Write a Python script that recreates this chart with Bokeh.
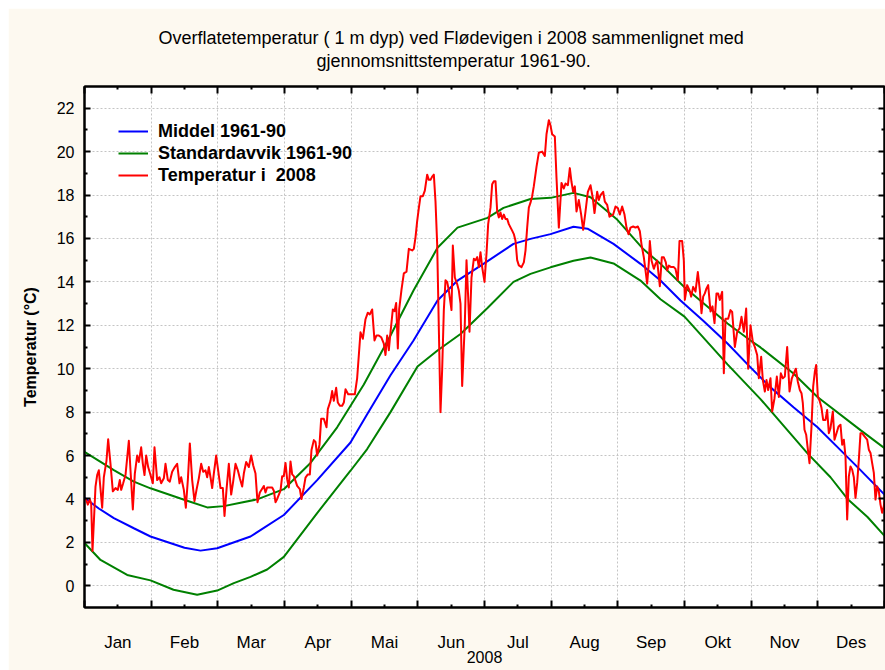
from bokeh.plotting import figure
from bokeh.models import (Range1d, LinearAxis, FixedTicker, Title, Legend, LegendItem, Grid, Spacer)
from bokeh.layouts import column, row
from bokeh.embed import file_html
from bokeh.resources import INLINE

FONT = "Liberation Sans"
CREAM = "#FDF9F0"

# ---------------- data ----------------
months = ["Jan", "Feb", "Mar", "Apr", "Mai", "Jun", "Jul", "Aug", "Sep", "Okt", "Nov", "Des"]
year_label = "2008"
y_ticks = [0, 2, 4, 6, 8, 10, 12, 14, 16, 18, 20, 22]

# x values are in months since 1 January (0 = 1 Jan, 12 = 31 Dec)
mean_month = [0, 0.22, 0.44, 0.74, 0.99, 1.5, 1.74, 1.99, 2.49, 2.99,
              3.49, 3.99, 4.24, 4.59, 4.935, 5.295, 5.595, 5.985, 6.435, 6.69,
              6.99, 7.335, 7.545, 7.935, 8.34, 8.64, 8.94, 9.285, 9.645, 9.99,
              10.29, 10.635, 10.995, 11.34, 11.64, 12.0]
mean_value = [4.05, 3.55, 3.12, 2.65, 2.27, 1.75, 1.62, 1.73, 2.27, 3.26,
              4.87, 6.6, 7.9, 9.7, 11.3, 13.14, 14.06, 14.83, 15.75, 15.98,
              16.2, 16.54, 16.45, 15.75, 14.83, 14.06, 13.14, 12.2, 11.16, 10.06,
              9.14, 8.22, 7.3, 6.25, 5.33, 4.2]

sd_hi_month = [0, 0.44, 0.74, 0.99, 1.44, 1.54, 1.84, 2.09, 2.34, 2.59,
               2.99, 3.39, 3.79, 4.19, 4.59, 4.935, 5.295, 5.595, 6.045, 6.285,
               6.69, 6.99, 7.335, 7.59, 7.98, 8.385, 8.64, 9.0, 9.645, 9.99,
               10.14, 10.635, 10.995, 11.64, 12.0]
sd_hi_value = [6.17, 5.33, 4.8, 4.49, 4.02, 3.92, 3.61, 3.67, 3.83, 3.98,
               4.45, 5.66, 7.3, 9.27, 11.53, 13.6, 15.57, 16.5, 16.95, 17.41,
               17.82, 17.87, 18.1, 17.9, 16.9, 15.5, 14.83, 13.75, 12.08, 11.3,
               10.98, 9.78, 8.7, 7.17, 6.34]

sd_lo_month = [0, 0.24, 0.64, 0.99, 1.335, 1.69, 1.99, 2.24, 2.49, 2.74,
               2.99, 3.49, 3.99, 4.24, 4.59, 4.995, 5.295, 5.64, 6.045, 6.435,
               6.69, 6.99, 7.335, 7.59, 7.935, 8.34, 8.64, 9.0, 9.645, 10.14,
               10.845, 11.19, 11.445, 11.745, 12.0]
sd_lo_value = [1.97, 1.19, 0.5, 0.25, -0.18, -0.41, -0.22, 0.12, 0.41, 0.75,
               1.33, 3.35, 5.3, 6.3, 8.0, 10.1, 10.84, 11.6, 12.8, 14.0,
               14.37, 14.67, 14.97, 15.12, 14.85, 14.06, 13.2, 12.4, 10.2, 8.6,
               6.1, 5.0, 4.0, 3.17, 2.3]

temp_month = [
    0.02, 0.05, 0.08, 0.10, 0.12, 0.165, 0.19, 0.215, 0.265, 0.29,
    0.33, 0.355, 0.39, 0.425, 0.465, 0.50, 0.53, 0.55, 0.58, 0.615,
    0.665, 0.69, 0.725, 0.755, 0.79, 0.815, 0.85, 0.875, 0.90, 0.925,
    0.955, 0.99, 1.025, 1.05, 1.09, 1.125, 1.15, 1.19, 1.215, 1.25,
    1.28, 1.315, 1.355, 1.39, 1.425, 1.45, 1.49, 1.52, 1.55, 1.58,
    1.615, 1.65, 1.68, 1.715, 1.75, 1.78, 1.815, 1.84, 1.865, 1.89,
    1.915, 1.94, 1.975, 2.005, 2.04, 2.075, 2.10, 2.13, 2.165, 2.20,
    2.23, 2.265, 2.30, 2.33, 2.365, 2.39, 2.425, 2.465, 2.50, 2.53,
    2.565, 2.595, 2.63, 2.69, 2.715, 2.74, 2.765, 2.815, 2.84, 2.865,
    2.89, 2.94, 2.965, 2.99, 3.015, 3.04, 3.065, 3.09, 3.115, 3.14,
    3.19, 3.23, 3.255, 3.29, 3.315, 3.35, 3.38, 3.405, 3.44, 3.465,
    3.49, 3.525, 3.55, 3.59, 3.63, 3.65, 3.69, 3.715, 3.74, 3.775,
    3.80, 3.83, 3.865, 3.89, 3.915, 3.955, 3.99, 4.055, 4.09, 4.14,
    4.175, 4.215, 4.25, 4.28, 4.315, 4.35, 4.38, 4.415, 4.45, 4.49,
    4.515, 4.54, 4.565, 4.59, 4.625, 4.65, 4.675, 4.70, 4.72, 4.755,
    4.79, 4.83, 4.865, 4.915, 4.94, 4.965, 4.99, 5.015, 5.04, 5.075,
    5.105, 5.14, 5.165, 5.19, 5.215, 5.24, 5.265, 5.29, 5.34, 5.365,
    5.39, 5.415, 5.44, 5.465, 5.505, 5.525, 5.555, 5.59, 5.615, 5.64,
    5.665, 5.705, 5.73, 5.755, 5.775, 5.805, 5.84, 5.865, 5.89, 5.915,
    5.94, 5.965, 6.0, 6.03, 6.055, 6.09, 6.115, 6.14, 6.165, 6.19,
    6.215, 6.24, 6.265, 6.29, 6.315, 6.34, 6.365, 6.415, 6.44, 6.465,
    6.49, 6.515, 6.555, 6.59, 6.615, 6.64, 6.665, 6.69, 6.715, 6.74,
    6.78, 6.815, 6.865, 6.905, 6.93, 6.965, 6.99, 7.015, 7.055, 7.08,
    7.115, 7.155, 7.19, 7.215, 7.25, 7.28, 7.305, 7.33, 7.355, 7.38,
    7.415, 7.45, 7.48, 7.515, 7.55, 7.59, 7.625, 7.65, 7.69, 7.715,
    7.74, 7.78, 7.805, 7.84, 7.875, 7.93, 7.965, 8.0, 8.03, 8.065,
    8.10, 8.13, 8.16, 8.19, 8.23, 8.265, 8.30, 8.33, 8.355, 8.39,
    8.415, 8.44, 8.465, 8.48, 8.505, 8.54, 8.565, 8.59, 8.63, 8.66,
    8.69, 8.72, 8.74, 8.765, 8.80, 8.84, 8.865, 8.90, 8.925, 8.965,
    8.99, 9.005, 9.04, 9.075, 9.10, 9.13, 9.165, 9.20, 9.23, 9.255,
    9.28, 9.305, 9.33, 9.355, 9.39, 9.42, 9.45, 9.48, 9.505, 9.53,
    9.565, 9.59, 9.615, 9.655, 9.69, 9.715, 9.755, 9.79, 9.825, 9.855,
    9.89, 9.925, 9.955, 9.99, 10.025, 10.055, 10.09, 10.115, 10.15, 10.175,
    10.205, 10.23, 10.255, 10.29, 10.315, 10.35, 10.385, 10.415, 10.445, 10.475,
    10.505, 10.54, 10.575, 10.61, 10.64, 10.67, 10.70, 10.73, 10.755, 10.775,
    10.80, 10.825, 10.845, 10.875, 10.905, 10.93, 10.955, 10.975, 11.0, 11.03,
    11.055, 11.08, 11.115, 11.14, 11.165, 11.19, 11.225, 11.25, 11.28, 11.31,
    11.34, 11.365, 11.39, 11.415, 11.44, 11.465, 11.49, 11.515, 11.54, 11.565,
    11.59, 11.615, 11.64, 11.665, 11.70, 11.74, 11.765, 11.79, 11.815, 11.84,
    11.865, 11.89, 11.915, 11.94, 11.965, 11.99, 12.0]
temp_value = [
    4.0, 3.74, 3.97, 3.8, 1.6, 4.57, 5.1, 5.32, 3.6, 5.0,
    5.77, 6.75, 5.62, 4.35, 4.5, 4.42, 4.87, 4.42, 4.72, 5.1,
    6.68, 5.32, 3.52, 5.17, 6.0, 5.7, 6.38, 5.62, 5.1, 6.0,
    5.47, 5.1, 4.72, 6.38, 4.87, 5.0, 4.72, 4.95, 5.62, 4.87,
    4.8, 5.25, 5.47, 5.62, 4.72, 5.0, 4.42, 3.6, 4.87, 6.56,
    4.87, 3.9, 4.42, 4.95, 5.62, 5.25, 5.32, 5.0, 5.47, 5.0,
    4.5, 5.17, 6.0, 5.32, 4.5, 4.5, 3.22, 4.42, 5.62, 4.2,
    4.8, 5.62, 5.32, 4.95, 4.57, 5.17, 5.7, 5.47, 6.0, 5.55,
    5.17, 3.85, 4.3, 4.6, 4.3, 4.53, 4.53, 4.53, 4.38, 3.85,
    4.0, 4.38, 5.05, 5.05, 5.66, 4.9, 4.53, 5.73, 5.13, 5.05,
    4.6, 4.45, 4.0, 4.53, 4.98, 5.13, 5.13, 6.26, 6.71, 6.63,
    6.0, 6.5, 7.69, 7.69, 7.3, 8.14, 8.52, 8.97, 8.52, 9.12,
    8.44, 8.29, 8.29, 8.44, 9.05, 8.82, 8.82, 8.82, 9.57, 11.68,
    11.38, 12.28, 12.58, 12.5, 12.73, 11.3, 11.53, 11.53, 11.45, 11.15,
    10.63, 11.53, 10.85, 11.68, 12.73, 12.65, 13.03, 10.93, 12.73, 13.64,
    14.39, 14.47, 15.52, 15.45, 15.52, 16.05, 16.8, 17.4, 17.95, 17.95,
    18.2, 18.94, 18.7, 18.7, 18.85, 18.94, 17.7, 15.75, 8.0, 9.96,
    12.7, 14.07, 14.0, 13.6, 12.7, 15.67, 14.2, 13.9, 13.6, 13.0,
    9.2, 12.1, 15.0, 13.3, 11.7, 14.2, 15.06, 15.0, 15.14, 14.68,
    15.37, 14.68, 14.0, 15.3, 16.66, 17.42, 18.5, 18.64, 18.64, 17.27,
    16.97, 17.2, 16.9, 17.1, 16.9, 16.9, 16.66, 16.36, 16.2, 15.9,
    15.0, 14.76, 14.68, 14.9, 15.44, 16.5, 17.42, 17.65, 17.95, 18.41,
    19.3, 19.95, 20.0, 19.8, 20.8, 21.45, 21.2, 20.8, 20.7, 18.8,
    16.5, 18.56, 18.3, 18.53, 18.45, 19.24, 18.6, 18.15, 18.4, 17.24,
    17.77, 17.1, 16.4, 17.24, 18.15, 18.45, 17.85, 17.17, 18.15, 17.77,
    18.0, 18.15, 17.7, 17.55, 17.0, 17.1, 17.47, 17.4, 17.1, 17.47,
    17.1, 16.5, 16.19, 16.5, 16.55, 16.5, 16.55, 16.34, 15.73, 15.13,
    14.53, 13.92, 14.9, 15.88, 14.98, 14.6, 14.83, 14.98, 13.8, 15.13,
    15.13, 14.9, 14.53, 14.75, 14.68, 14.68, 14.6, 14.07, 15.88, 15.88,
    14.98, 13.17, 13.85, 13.62, 13.32, 13.77, 13.55, 14.45, 13.62, 12.56,
    13.32, 13.47, 13.7, 13.85, 12.64, 12.87, 12.1, 13.47, 13.47, 13.17,
    13.54, 9.79, 12.3, 12.3, 12.7, 12.62, 11.0, 11.7, 11.86, 12.39,
    11.7, 12.77, 10.0, 12.0, 11.24, 11.0, 10.63, 9.56, 10.55, 9.48,
    8.95, 9.48, 9.02, 9.56, 8.03, 8.64, 9.64, 8.7, 9.79, 9.56,
    9.64, 11.0, 8.95, 9.56, 9.79, 10.0, 9.4, 9.02, 8.87, 8.41,
    7.19, 6.96, 6.42, 5.65, 7.35, 9.17, 9.86, 10.17, 8.72, 8.49,
    8.2, 7.64, 7.64, 8.1, 7.03, 7.26, 8.03, 6.73, 7.03, 7.34,
    7.42, 6.5, 6.73, 5.96, 3.05, 5.04, 5.5, 5.35, 5.0, 4.05,
    4.74, 5.8, 7.03, 7.03, 6.88, 6.73, 6.27, 6.12, 5.65, 5.2,
    3.97, 4.58, 4.35, 3.74, 3.36, 3.67, 3.9]

title_line1 = "Overflatetemperatur ( 1 m dyp) ved Flødevigen i 2008 sammenlignet med"
title_line2 = "gjennomsnittstemperatur 1961-90."

# ---------------- figure ----------------
p = figure(width=877, height=662, x_range=Range1d(0, 12), y_range=Range1d(-1, 23),
           output_backend="svg", toolbar_location=None,
           x_axis_location=None, y_axis_location=None,
           min_border_left=76, min_border_right=1, min_border_top=78, min_border_bottom=63,
           background_fill_color="white", border_fill_color=CREAM,
           outline_line_color="black", outline_line_width=2)

p.center = [r for r in p.center if not isinstance(r, Grid)]

bounds = list(range(13))
mids = [i + 0.5 for i in range(12)]
odd = list(range(1, 23, 2))

p.add_layout(Grid(dimension=0, ticker=FixedTicker(ticks=bounds), grid_line_color="#c4c4c4",
                  grid_line_dash="2 2", grid_line_width=1))
p.add_layout(Grid(dimension=1, ticker=FixedTicker(ticks=y_ticks), grid_line_color="#c4c4c4",
                  grid_line_dash="2 2", grid_line_width=1))

common_axis = dict(axis_line_color="black", axis_line_width=2,
                   major_tick_line_color="black", minor_tick_line_color="black",
                   major_tick_line_width=2, minor_tick_line_width=2,
                   major_tick_out=0, minor_tick_out=0)

xb = LinearAxis(ticker=FixedTicker(ticks=mids, minor_ticks=bounds),
                major_label_overrides={m: name for m, name in zip(mids, months)},
                major_tick_in=3, minor_tick_in=7,
                major_label_standoff=25,
                major_label_text_font=FONT, major_label_text_font_size="17px",
                major_label_text_color="black",
                axis_label=year_label, axis_label_standoff=-4,
                axis_label_text_font=FONT, axis_label_text_font_size="16px",
                axis_label_text_font_style="normal", axis_label_text_color="black",
                **common_axis)
p.add_layout(xb, "below")

xt = LinearAxis(ticker=FixedTicker(ticks=bounds, minor_ticks=mids),
                major_tick_in=7, minor_tick_in=3,
                major_label_text_font_size="0px", major_label_text_color=None,
                major_label_standoff=0,
                **common_axis)
p.add_layout(xt, "above")

yl = LinearAxis(ticker=FixedTicker(ticks=y_ticks, minor_ticks=odd),
                major_tick_in=6, minor_tick_in=3,
                major_label_standoff=10,
                major_label_text_font=FONT, major_label_text_font_size="16px",
                major_label_text_color="black",
                axis_label="Temperatur (°C)", axis_label_standoff=15,
                axis_label_text_font=FONT, axis_label_text_font_size="16px",
                axis_label_text_font_style="bold", axis_label_text_color="black",
                **common_axis)
p.add_layout(yl, "left")

yr = LinearAxis(ticker=FixedTicker(ticks=y_ticks, minor_ticks=odd),
                major_tick_in=6, minor_tick_in=3,
                major_label_text_font_size="0px", major_label_text_color=None,
                major_label_standoff=0,
                **common_axis)
p.add_layout(yr, "right")

# line 2 carries an empty second line so that it keeps a gap above the frame
t2 = Title(text=title_line2 + "\n", align="left", offset=232, standoff=-8,
           vertical_align="bottom",
           text_font=FONT, text_font_size="18px", text_font_style="normal", text_color="black")
t1 = Title(text=title_line1, align="left", offset=74, standoff=10,
           text_font=FONT, text_font_size="18px", text_font_style="normal", text_color="black")
p.add_layout(t2, "above")
p.add_layout(t1, "above")

r_mean = p.line(mean_month, mean_value, line_color="#0000FF", line_width=2)
r_hi = p.line(sd_hi_month, sd_hi_value, line_color="#008000", line_width=2)
r_lo = p.line(sd_lo_month, sd_lo_value, line_color="#008000", line_width=2)
r_temp = p.line(temp_month, temp_value, line_color="#FF0000", line_width=2, line_join="round")

legend = Legend(items=[LegendItem(label="Middel 1961-90", renderers=[r_mean]),
                       LegendItem(label="Standardavvik 1961-90", renderers=[r_hi]),
                       LegendItem(label="Temperatur i  2008", renderers=[r_temp])],
                location="top_left", margin=34, padding=15, spacing=0,
                glyph_width=30, glyph_height=22, label_height=22, label_standoff=10,
                label_text_font=FONT, label_text_font_size="18px", label_text_font_style="bold",
                label_text_color="black",
                border_line_color=None, background_fill_alpha=0)
p.add_layout(legend)

layout = column(Spacer(width=885, height=8), row(Spacer(width=8, height=662), p))

open("out.html", "w").write(file_html(layout, INLINE))
